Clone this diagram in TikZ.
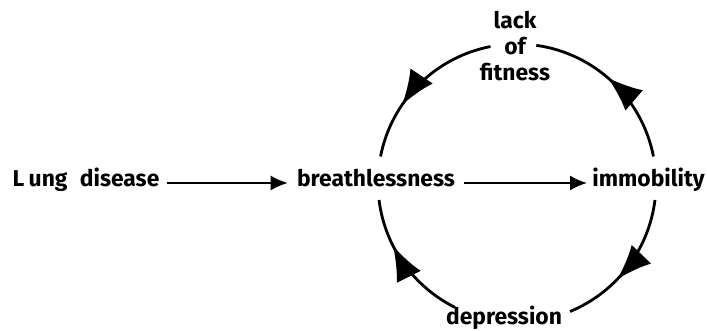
\documentclass[tikz,border=0pt]{standalone}
\usepackage{fontspec}
\setmainfont{Fira Sans}
\usetikzlibrary{arrows.meta,decorations.markings,positioning}

\begin{document}
\begin{tikzpicture}[x=0.02cm,y=0.02cm,
txt/.style={font=\fontsize{13}{15}\selectfont\bfseries, inner sep=0pt},
flow/.style={line width=1.1pt,-{Latex[length=3.4mm,width=3mm]}},
cyclearc/.style={line width=1.6pt, postaction={decorate},
  decoration={markings, mark=at position #1 with {\arrow{Latex[length=7mm,width=5.4mm]}}}},
cyclearc/.default=0.6,]
\useasboundingbox (0,0) rectangle (707,331);
\coordinate (circ) at (517,148);
\def\rad{139}
\node[txt, anchor=base] (lung) at (86,144) {L\kern2.5pt ung\hspace{7pt}disease};
\node[txt, anchor=base] (breath) at (376,144) {breathlessness};
\node[txt, anchor=base] (immob) at (648.5,144) {immobility};
\node[txt, align=center] (fit) at (515,285) {lack\\of\\fitness};
\node[txt, anchor=base] (depr) at (504,6) {depression};

\draw[flow] ([shift={(7,4)}]lung.base east) -- ([shift={(-9,4)}]breath.base west);
\draw[flow] ([shift={(9,4)}]breath.base east) -- ([shift={(-5,4)}]immob.base west);

% the vicious circle
\draw[cyclearc=0.66] ([shift={(101:\rad)}]circ) arc[start angle=101, end angle=169, radius=\rad];
\draw[cyclearc=0.54] ([shift={(11:\rad)}]circ) arc[start angle=11, end angle=82, radius=\rad];
\draw[cyclearc=0.61] ([shift={(-7:\rad)}]circ) arc[start angle=-7, end angle=-67.6, radius=\rad];
\draw[cyclearc=0.65] ([shift={(243.5:\rad)}]circ) arc[start angle=243.5, end angle=187, radius=\rad];
\end{tikzpicture}
\end{document}
